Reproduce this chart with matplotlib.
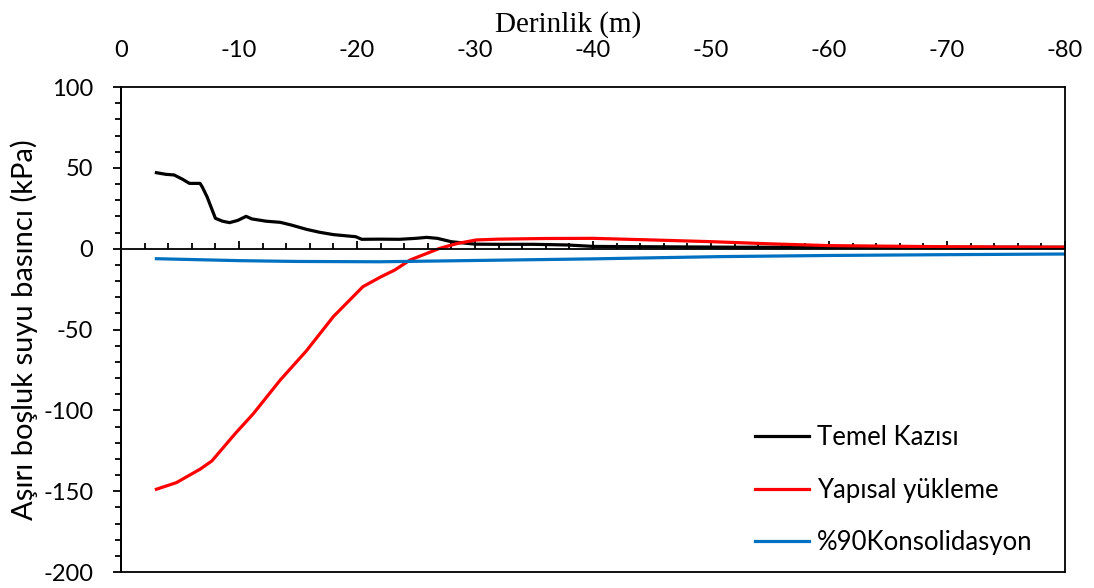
import matplotlib
matplotlib.use("Agg")
import matplotlib.pyplot as plt
from matplotlib.ticker import MultipleLocator

plt.rcParams["font.family"] = ["Lato", "DejaVu Sans"]
plt.rcParams["axes.unicode_minus"] = False

# depth (m) and excess pore pressure (kPa)
kazi_x = [-3.0, -3.8, -4.5, -5.2, -5.8, -6.7, -6.9, -7.3, -8.0, -8.6, -9.2, -9.9,
          -10.6, -11.1, -12.3, -13.5, -14.5, -15.7, -16.8, -18.0, -19.9, -20.4,
          -21.9, -23.6, -25.0, -25.9, -26.8, -28.0, -30.0, -32.0, -35.0, -37.8,
          -40.0, -45.0, -52.5, -60.0, -70.0, -80.0]
kazi_y = [47, 46, 45.6, 43, 40.4, 40.4, 38, 32, 18.8, 17, 16.1, 17.5,
          20, 18.4, 17, 16.3, 14.5, 12, 10.2, 8.7, 7.4, 5.8,
          5.9, 5.8, 6.4, 7.0, 6.4, 4.3, 2.8, 2.7, 2.7, 2.3,
          1.4, 1.2, 0.9, 0.9, 0.9, 0.9]

yuk_x = [-3.0, -4.7, -6.7, -7.7, -9.7, -11.2, -13.5, -15.7, -18.0, -20.5, -22.0,
         -23.2, -24.5, -27.0, -28.5, -30.1, -32.0, -36.0, -40.0, -45.0, -50.2,
         -55.0, -60.0, -70.0, -80.0]
yuk_y = [-148.8, -144.7, -136.4, -131.3, -114.2, -102.2, -81.2, -63.3, -42, -23.5, -17.5,
         -13.2, -7, 0.2, 3.2, 5.4, 5.9, 6.3, 6.4, 5.4, 4.3,
         3.0, 1.9, 1.2, 0.9]

kons_x = [-3.0, -10.0, -15.0, -21.9, -30.0, -40.0, -50.8, -60.0, -70.0, -80.0]
kons_y = [-6.2, -7.4, -7.9, -8.1, -7.3, -6.3, -4.9, -4.2, -3.7, -3.3]

fig = plt.figure(figsize=(10.94, 5.88), dpi=100)
ax = fig.add_axes([0.1106, 0.0272, 0.8629, 0.8248])

ax.plot(kazi_x, kazi_y, color="black", lw=2.3, label="Temel Kazısı")
ax.plot(yuk_x, yuk_y, color="#FF0000", lw=2.3, label="Yapısal yükleme")
ax.plot(kons_x, kons_y, color="#0070C0", lw=2.3, label="%90Konsolidasyon")

ax.set_xlim(0, -80)
ax.set_ylim(-200, 100)

# x axis crosses at y=0, ticks pointing up, no labels there
ax.spines["bottom"].set_position(("data", 0))
ax.spines["top"].set_visible(False)
ax.spines["right"].set_visible(False)
ax.xaxis.set_major_locator(MultipleLocator(10))
ax.xaxis.set_minor_locator(MultipleLocator(2))
ax.tick_params(axis="x", which="both", direction="in", bottom=True, top=False,
               labelbottom=False, width=1.3)
ax.tick_params(axis="x", which="major", length=6)
ax.tick_params(axis="x", which="minor", length=4)

ax.yaxis.set_major_locator(MultipleLocator(50))
ax.yaxis.set_minor_locator(MultipleLocator(10))
ax.tick_params(axis="y", which="both", direction="out", width=1.3, labelsize=17)
ax.tick_params(axis="y", which="major", length=6, pad=14)
ax.tick_params(axis="y", which="minor", length=4)
for s in ax.spines.values():
    s.set_linewidth(1.3)

ax.set_ylabel("Aşırı boşluk suyu basıncı (kPa)", fontsize=21)
ax.yaxis.set_label_coords(-0.088, 0.5)

# frame + top labels
ax2 = ax.twiny()
ax2.set_xlim(0, -80)
ax2.xaxis.set_major_locator(MultipleLocator(10))
ax2.tick_params(axis="x", length=0, labelsize=17, pad=19)
for s in ax2.spines.values():
    s.set_linewidth(1.3)
ax2.set_xlabel("Derinlik (m)", family="Liberation Serif", fontsize=21, labelpad=6)
ax2.xaxis.label.set_x(0.474)

leg = ax.legend(loc="center left", bbox_to_anchor=(0.672, 0.169), frameon=False,
                fontsize=18.5, handlelength=2.1, handletextpad=0.3,
                labelspacing=1.08, borderpad=0, borderaxespad=0)

fig.savefig("out.png", dpi=100)
